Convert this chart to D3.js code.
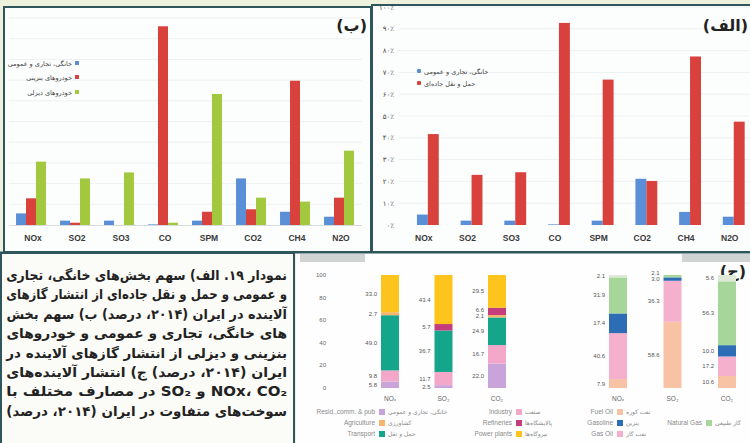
<!DOCTYPE html>
<html><head><meta charset="utf-8">
<script src="https://cdn.jsdelivr.net/npm/d3@7"></script>
<style>html,body{margin:0;padding:0;background:#eef1dc;} svg{display:block}</style>
</head><body><svg id="c" width="750" height="443"></svg>
<script>
// ---------- DATA ----------
const gases = ["NOx","SO2","SO3","CO","SPM","CO2","CH4","N2O"];
// (الف) shares, %
const aResidential = [4.8, 2.0, 2.0, 0.3, 2.0, 21.2, 6.0, 3.8];
const aRoadTransport = [41.7, 23.0, 24.2, 92.7, 66.7, 20.2, 77.3, 47.4];
const aSeriesFa = ["خانگی، تجاری و عمومی", "حمل و نقل جاده‌ای"];
// (ب) shares, %
const bResidential = [5.6, 2.1, 2.1, 0.3, 2.1, 22.5, 6.4, 4.0];
const bGasolineCars = [12.9, 1.1, 0, 96.0, 6.4, 7.6, 69.7, 13.2];
const bDieselCars = [30.6, 22.5, 25.4, 1.1, 63.3, 13.2, 11.3, 35.9];
const bSeriesFa = ["خانگی، تجاری و عمومی", "خودروهای بنزینی", "خودروهای دیزلی"];
const aTicks = [0,10,20,30,40,50,60,70,80,90,100];
// (ج) by sector, %
const pollutants = ["NOₓ","SO₂","CO₂"];
const sectorKeys = ["resid","industry","transport","agriculture","refineries","power"];
const sectorEn = ["Resid.,comm. & pub","Industry","Transport","Agriculture","Refineries","Power plants"];
const sectorFa = ["خانگی، تجاری و عمومی","صنعت","حمل و نقل","کشاورزی","پالایشگاه‌ها","نیروگاه‌ها"];
const sResid = [5.8, 2.5, 22.0];
const sIndustry = [9.8, 11.7, 16.7];
const sTransport = [49.0, 36.7, 24.9];
const sAgriculture = [2.7, 0, 2.1];
const sRefineries = [0, 5.7, 6.6];
const sPower = [33.0, 43.4, 29.5];
const sectorLegendOrder = ["resid","agriculture","transport","industry","refineries","power"];
// (ج) by fuel, %
const fuelKeys = ["fuelOil","gasOil","gasoline","naturalGas","other"];
const fuelEn = ["Fuel Oil","Gas Oil","Gasoline","Natural Gas",""];
const fuelFa = ["نفت کوره","نفت گاز","بنزین","گاز طبیعی",""];
const fFuelOil = [7.9, 58.6, 10.6];
const fGasOil = [40.6, 36.3, 17.2];
const fGasoline = [17.4, 3.0, 10.0];
const fNaturalGas = [31.9, 2.1, 56.3];
const fOther = [2.1, 0, 5.6];
const fuelLegendOrder = ["fuelOil","gasoline","gasOil"];
const cTicks = [0,20,40,60,80,100];
const captionLines = [
  "نمودار ۱۹. الف) سهم بخش‌های خانگی، تجاری",
  "و عمومی و حمل و نقل جاده‌ای از انتشار گازهای",
  "آلاینده در ایران (۲۰۱۴، درصد) ب) سهم بخش",
  "های خانگی، تجاری و عمومی و خودروهای",
  "بنزینی و دیزلی از انتشار گازهای آلاینده در",
  "ایران (۲۰۱۴، درصد) ج) انتشار آلاینده‌های",
  "NOx، CO₂ و SO₂ در مصارف مختلف با",
  "سوخت‌های متفاوت در ایران (۲۰۱۴، درصد)"
];

// ---------- STYLE ----------
const BLUE="#5a8fd8", RED="#d8413c", GREEN="#a2c83e";
const sectorColor = {resid:"#c8a4da", industry:"#f3a7c9", transport:"#15a58a", agriculture:"#f5b56c", refineries:"#c53c7c", power:"#fcc41c"};
const fuelColor = {fuelOil:"#f8c3a4", gasOil:"#f4b0cd", gasoline:"#2d6db6", naturalGas:"#a6d699", other:"#dfe8d6"};
const FA = "'DejaVu Sans', sans-serif";
const LAT = "'Liberation Sans', Arial, sans-serif";
const toFa = s => String(s).replace(/\d/g, d => "۰۱۲۳۴۵۶۷۸۹"[d]);

const svg = d3.select("#c");
svg.append("rect").attr("width",750).attr("height",443).attr("fill","#eef1dc");

// ---------- PANEL ب ----------
svg.append("rect").attr("x",4).attr("y",7).attr("width",367).attr("height",245)
  .attr("fill","#fcfdfd").attr("stroke","#2f555d").attr("stroke-width",2);
const gB = svg.append("g");
const xB = d3.scaleBand().domain(gases).range([9,361]).paddingInner(0.32).paddingOuter(0.16);
const xB2 = d3.scaleBand().domain([0,1,2]).range([0,xB.bandwidth()]);
const yB = d3.scaleLinear().domain([0,100]).range([225,18]);
gB.selectAll("line.grid").data(d3.range(10,101,10)).join("line")
  .attr("x1",9).attr("x2",362).attr("y1",d=>yB(d)).attr("y2",d=>yB(d))
  .attr("stroke","#eef1f2").attr("stroke-width",1);
const bSeries = [bResidential,bGasolineCars,bDieselCars];
const bCols = [BLUE,RED,GREEN];
bSeries.forEach((arr,si)=>{
  gB.selectAll("rect.s"+si).data(arr).join("rect")
    .attr("x",(d,i)=>xB(gases[i])+xB2(si)).attr("width",xB2.bandwidth())
    .attr("y",d=>yB(d)).attr("height",d=>yB(0)-yB(d)).attr("fill",bCols[si]);
});
gB.append("line").attr("x1",9).attr("x2",362).attr("y1",yB(0)+0.5).attr("y2",yB(0)+0.5).attr("stroke","#d6dcdc");
gB.selectAll("text.xl").data(gases).join("text")
  .attr("x",d=>xB(d)+xB.bandwidth()/2+2).attr("y",241).attr("text-anchor","middle")
  .attr("font-family",LAT).attr("font-weight","bold").attr("font-size",8.5).attr("fill","#3a3a3a").text(d=>d);
const legB = gB.selectAll("g.lg").data(bSeriesFa).join("g").attr("transform",(d,i)=>`translate(0,${[63,77,92][i]})`);
legB.append("rect").attr("x",75).attr("y",-2).attr("width",4).attr("height",4).attr("fill",(d,i)=>bCols[i]);
legB.append("text").attr("x",72).attr("y",2.5).attr("text-anchor","end").attr("font-family",FA)
  .attr("font-size",6.5).attr("fill","#444").text(d=>d);
gB.append("text").attr("x",367).attr("y",31).attr("text-anchor","end").attr("font-family",FA)
  .attr("font-weight","bold").attr("font-size",16).attr("fill","#222").text("(ب)");

// ---------- PANEL الف ----------
svg.append("rect").attr("x",372).attr("y",5).attr("width",384).attr("height",247)
  .attr("fill","#fcfdfd").attr("stroke","#2f555d").attr("stroke-width",2);
const gA = svg.append("g");
const xA = d3.scaleBand().domain(gases).range([406,755.6]).paddingInner(0.5).paddingOuter(0.25);
const xA2 = d3.scaleBand().domain([0,1]).range([0,xA.bandwidth()]);
const yA = d3.scaleLinear().domain([0,100]).range([225,7]);
gA.selectAll("line.grid").data(aTicks.slice(1)).join("line")
  .attr("x1",398).attr("x2",750).attr("y1",d=>yA(d)).attr("y2",d=>yA(d))
  .attr("stroke","#eef1f2");
const aSeries=[aResidential,aRoadTransport], aCols=[BLUE,RED];
aSeries.forEach((arr,si)=>{
  gA.selectAll("rect.s"+si).data(arr).join("rect")
    .attr("x",(d,i)=>xA(gases[i])+xA2(si)).attr("width",xA2.bandwidth())
    .attr("y",d=>yA(d)).attr("height",d=>yA(0)-yA(d)).attr("fill",aCols[si]);
});
gA.selectAll("text.yt").data(aTicks).join("text")
  .attr("x",394).attr("y",d=>yA(d)+2.5).attr("text-anchor","end").attr("font-family",FA)
  .attr("font-size",7).attr("fill","#4a4a4a").text(d=>toFa(d)+"٪");
gA.selectAll("text.xl").data(gases).join("text")
  .attr("x",d=>xA(d)+xA.bandwidth()/2-4).attr("y",241).attr("text-anchor","middle")
  .attr("font-family",LAT).attr("font-weight","bold").attr("font-size",8.5).attr("fill","#3a3a3a").text(d=>d);
const legA = gA.selectAll("g.lg").data(aSeriesFa).join("g").attr("transform",(d,i)=>`translate(0,${[71,83][i]})`);
legA.append("rect").attr("x",417).attr("y",-2).attr("width",4).attr("height",4).attr("rx",1).attr("fill",(d,i)=>aCols[i]);
legA.append("text").attr("x",424).attr("y",2.5).attr("font-family",FA)
  .attr("font-size",6.5).attr("fill","#444").text(d=>d);
gA.append("text").attr("x",748).attr("y",31).attr("text-anchor","end").attr("font-family",FA)
  .attr("font-weight","bold").attr("font-size",16).attr("fill","#222").text("(الف)");

// ---------- CAPTION ----------
svg.append("rect").attr("x",1).attr("y",253).attr("width",293).attr("height",192)
  .attr("fill","#fbfbf7").attr("stroke","#2f555d").attr("stroke-width",2);
const capG = svg.selectAll("g.cap").data(captionLines).join("g").attr("class","cap");
capG.append("text").attr("x",0).attr("y",0).attr("text-anchor","end")
  .attr("font-family",FA).attr("font-weight","bold").attr("font-size",13.5).attr("fill","#222")
  .text(d=>"\u202B"+d+"\u202C");
capG.each(function(d,i){
  const w = d3.select(this).select("text").node().getComputedTextLength();
  const s = Math.min(1.2, 281 / w);
  d3.select(this).attr("transform",`translate(287,${280+i*19.4}) scale(${s},1)`);
});

// ---------- PANEL ج ----------
svg.append("rect").attr("x",296).attr("y",253).attr("width",456).attr("height",191).attr("fill","#fefefe");
svg.append("line").attr("x1",0).attr("x2",750).attr("y1",252.5).attr("y2",252.5).attr("stroke","#2f555d").attr("stroke-width",2);
svg.append("rect").attr("x",300).attr("y",254).attr("width",65).attr("height",8).attr("fill","#cfd3d2");
svg.append("rect").attr("x",682).attr("y",254).attr("width",68).attr("height",8).attr("fill","#cfd3d2");
const gC = svg.append("g");
const yC = d3.scaleLinear().domain([0,1]).range([388,275]);
const yCt = d3.scaleLinear().domain([0,100]).range([388,275]);
gC.selectAll("text.yt").data(cTicks).join("text")
  .attr("x",326).attr("y",d=>yCt(d)+2).attr("text-anchor","end").attr("font-family",LAT)
  .attr("font-size",6).attr("fill","#666").text(d=>d);
gC.append("text").attr("x",746).attr("y",277).attr("text-anchor","end").attr("font-family",FA)
  .attr("font-weight","bold").attr("font-size",16).attr("fill","#222").text("(ج)");
const BW = 18;
function stacked(keys, arrays, colors, x0, x1){
  const rows = pollutants.map((p,i)=>{const o={p}; keys.forEach((k,j)=>o[k]=arrays[j][i]); return o;});
  const st = d3.stack().keys(keys).offset(d3.stackOffsetExpand)(rows);
  const x = d3.scalePoint().domain(pollutants).range([x0,x1]);
  st.forEach(layer=>{
    gC.selectAll(null).data(layer).join("rect")
      .attr("x",d=>x(d.data.p)-BW/2).attr("width",BW)
      .attr("y",d=>yC(d[1])).attr("height",d=>yC(d[0])-yC(d[1]))
      .attr("fill",colors[layer.key]);
  });
  pollutants.forEach((p,i)=>{
    let prev = Infinity;
    st.forEach(layer=>{
      const d = layer[i], v = d.data[layer.key];
      if(!v) return;
      let ym = yC((d[0]+d[1])/2) + 2;
      ym = Math.min(ym, prev - 6.5); prev = ym;
      gC.append("text").attr("x",x(p)-BW/2-4).attr("y",ym).attr("text-anchor","end")
        .attr("font-family",LAT).attr("font-size",6).attr("fill","#555").text(v.toFixed(1));
    });
  });
  gC.selectAll(null).data(pollutants).join("text")
    .attr("x",d=>x(d)).attr("y",401).attr("text-anchor","middle").attr("font-family",LAT)
    .attr("font-size",6.5).attr("fill","#666").text(d=>d);
}
stacked(sectorKeys,[sResid,sIndustry,sTransport,sAgriculture,sRefineries,sPower],sectorColor,390,497);
stacked(fuelKeys,[fFuelOil,fGasOil,fGasoline,fNaturalGas,fOther],fuelColor,618,727);

// legends
const colX = [379,516,617,706], rowY = [412,423,434];
const legItems = [];
sectorLegendOrder.forEach((k,i)=>{const j=sectorKeys.indexOf(k); legItems.push({en:sectorEn[j],fa:sectorFa[j],c:sectorColor[k],col:Math.floor(i/3),row:i%3});});
fuelLegendOrder.forEach((k,i)=>{const j=fuelKeys.indexOf(k); legItems.push({en:fuelEn[j],fa:fuelFa[j],c:fuelColor[k],col:2,row:i});});
{const j=fuelKeys.indexOf("naturalGas"); legItems.push({en:fuelEn[j],fa:fuelFa[j],c:fuelColor.naturalGas,col:3,row:1});}
const lg = gC.selectAll("g.lg").data(legItems).join("g").attr("transform",d=>`translate(${colX[d.col]},${rowY[d.row]})`);
lg.append("rect").attr("x",0).attr("y",-3).attr("width",6).attr("height",6).attr("fill",d=>d.c);
lg.append("text").attr("x",-4).attr("y",2.2).attr("text-anchor","end").attr("font-family",LAT)
  .attr("font-size",6.5).attr("fill","#8a8a8a").text(d=>d.en);
lg.append("text").attr("x",9).attr("y",2.2).attr("font-family",FA)
  .attr("font-size",6).attr("fill","#8a8a8a").text(d=>d.fa);
</script></body></html>
